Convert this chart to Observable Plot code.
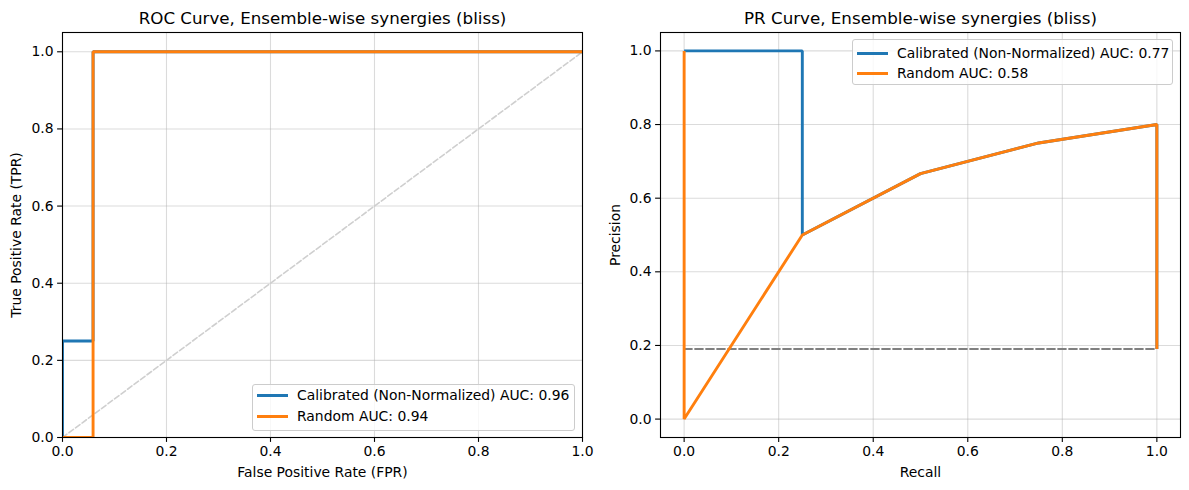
<!DOCTYPE html>
<html>
<head>
<meta charset="utf-8">
<script src="https://cdn.jsdelivr.net/npm/d3@7"></script>
<script src="https://cdn.jsdelivr.net/npm/@observablehq/plot@0.6"></script>
<style>
  body { margin: 0; background: white; }
  #wrap { position: relative; width: 1189px; height: 490px; background: white; font-family: "DejaVu Sans", sans-serif; }
  .panel { position: absolute; top: 0; }
  .legend { position: absolute; background: rgba(255,255,255,0.8); border: 1px solid #cccccc; border-radius: 3px; box-sizing: border-box; font-size: 13.9px; color: #000; }
  .legend .sw { position: absolute; width: 31px; height: 3px; }
  .legend .lab { position: absolute; white-space: nowrap; }
</style>
</head>
<body>
<div id="wrap"></div>
<script>
// ---------- data ----------
const ticks = [0, 0.2, 0.4, 0.6, 0.8, 1.0];

// ROC curve
const rocCalFPR = [0, 0, 0.0588, 0.0588, 1];
const rocCalTPR = [0, 0.25, 0.25, 1, 1];
const rocRandFPR = [0, 0.0588, 0.0588, 1];
const rocRandTPR = [0, 0, 1, 1];
const rocDiagX = [0, 1];
const rocDiagY = [0, 1];

// PR curve
const prCalRecall = [1, 1, 0.75, 0.5, 0.25, 0.25, 0];
const prCalPrecision = [0.1905, 0.8, 0.75, 0.6667, 0.5, 1, 1];
const prRandRecall = [1, 1, 0.75, 0.5, 0.25, 0, 0];
const prRandPrecision = [0.1905, 0.8, 0.75, 0.6667, 0.5, 0, 1];
const prBaseX = [0, 1];
const prBaseY = [0.1905, 0.1905];

const seriesNames = ["Calibrated (Non-Normalized)", "Random"];
const rocAUC = [0.96, 0.94];
const prAUC = [0.77, 0.58];
const colors = ["#1f77b4", "#ff7f0e"];

const toRows = (xs, ys) => xs.map((x, i) => ({x, y: ys[i]}));
const fmt = d3.format(".1f");

function panel({width, ml, mr, xDomain, yDomain, title, xLabel, yLabel, curves, ref, yLabelDx}) {
  return Plot.plot({
    width, height: 490,
    marginLeft: ml, marginRight: mr, marginTop: 32, marginBottom: 53,
    x: {domain: xDomain},
    y: {domain: yDomain},
    style: {fontFamily: "DejaVu Sans, sans-serif", fontSize: "13.9px", color: "#000", background: "white", overflow: "visible"},
    marks: [
      Plot.gridX(ticks, {stroke: "#b0b0b0", strokeOpacity: 0.45, strokeWidth: 1.1}),
      Plot.gridY(ticks, {stroke: "#b0b0b0", strokeOpacity: 0.45, strokeWidth: 1.1}),
      Plot.line(toRows(ref.x, ref.y), {x: "x", y: "y", stroke: ref.stroke, strokeWidth: ref.width, strokeDasharray: ref.dash, clip: true}),
      ...curves.map(c => Plot.line(toRows(c.x, c.y), {x: "x", y: "y", stroke: c.color, strokeWidth: 2.9, strokeLinejoin: "miter", strokeLinecap: "butt", clip: true})),
      Plot.frame({stroke: "#000", strokeWidth: 1.1}),
      Plot.axisX(ticks, {tickSize: 4.9, tickPadding: 4, tickFormat: fmt, label: null, strokeWidth: 1.1}),
      Plot.axisY(ticks, {tickSize: 4.9, tickPadding: 4, tickFormat: fmt, label: null, strokeWidth: 1.1}),
      Plot.text([title], {frameAnchor: "top", dy: -14, text: d => d, fontSize: 16.7, lineAnchor: "middle"}),
      Plot.text([xLabel], {frameAnchor: "bottom", dy: 35, text: d => d, fontSize: 13.9, lineAnchor: "middle"}),
      Plot.text([yLabel], {frameAnchor: "left", dx: yLabelDx, text: d => d, fontSize: 13.9, rotate: -90, lineAnchor: "middle", textAnchor: "middle"})
    ]
  });
}

const wrap = document.getElementById("wrap");

const left = panel({
  width: 595, ml: 62, mr: 13, xDomain: [0, 1], yDomain: [0, 1.05],
  title: "ROC Curve, Ensemble-wise synergies (bliss)",
  xLabel: "False Positive Rate (FPR)", yLabel: "True Positive Rate (TPR)", yLabelDx: -46,
  ref: {x: rocDiagX, y: rocDiagY, stroke: "#cfcfcf", width: 1.6, dash: "5.5,2.6"},
  curves: [
    {x: rocCalFPR, y: rocCalTPR, color: colors[0]},
    {x: rocRandFPR, y: rocRandTPR, color: colors[1]}
  ]
});
left.classList.add("panel");
left.style.left = "0px";
wrap.appendChild(left);

const right = panel({
  width: 594, ml: 65, mr: 9, xDomain: [-0.05, 1.05], yDomain: [-0.05, 1.05],
  title: "PR Curve, Ensemble-wise synergies (bliss)",
  xLabel: "Recall", yLabel: "Precision", yLabelDx: -45,
  ref: {x: prBaseX, y: prBaseY, stroke: "#808080", width: 2.1, dash: "7.7,3.3"},
  curves: [
    {x: prCalRecall, y: prCalPrecision, color: colors[0]},
    {x: prRandRecall, y: prRandPrecision, color: colors[1]}
  ]
});
right.classList.add("panel");
right.style.left = "595px";
wrap.appendChild(right);

// legends
function legend(box, rows, labels) {
  const div = document.createElement("div");
  div.className = "legend";
  Object.assign(div.style, {left: box.x + "px", top: box.y + "px", width: box.w + "px", height: box.h + "px"});
  labels.forEach((lab, i) => {
    const sw = document.createElement("div");
    sw.className = "sw";
    Object.assign(sw.style, {left: "4px", top: (rows[i] - 1.5) + "px", background: colors[i]});
    const t = document.createElement("div");
    t.className = "lab";
    t.textContent = lab;
    Object.assign(t.style, {left: "44px", top: (rows[i] - 9) + "px", lineHeight: "18px"});
    div.appendChild(sw);
    div.appendChild(t);
  });
  wrap.appendChild(div);
}
legend({x: 252, y: 384, w: 323, h: 47}, [10, 31], seriesNames.map((n, i) => `${n} AUC: ${rocAUC[i].toFixed(2)}`));
legend({x: 852, y: 39, w: 321, h: 46}, [13, 33], seriesNames.map((n, i) => `${n} AUC: ${prAUC[i].toFixed(2)}`));
</script>
</body>
</html>
